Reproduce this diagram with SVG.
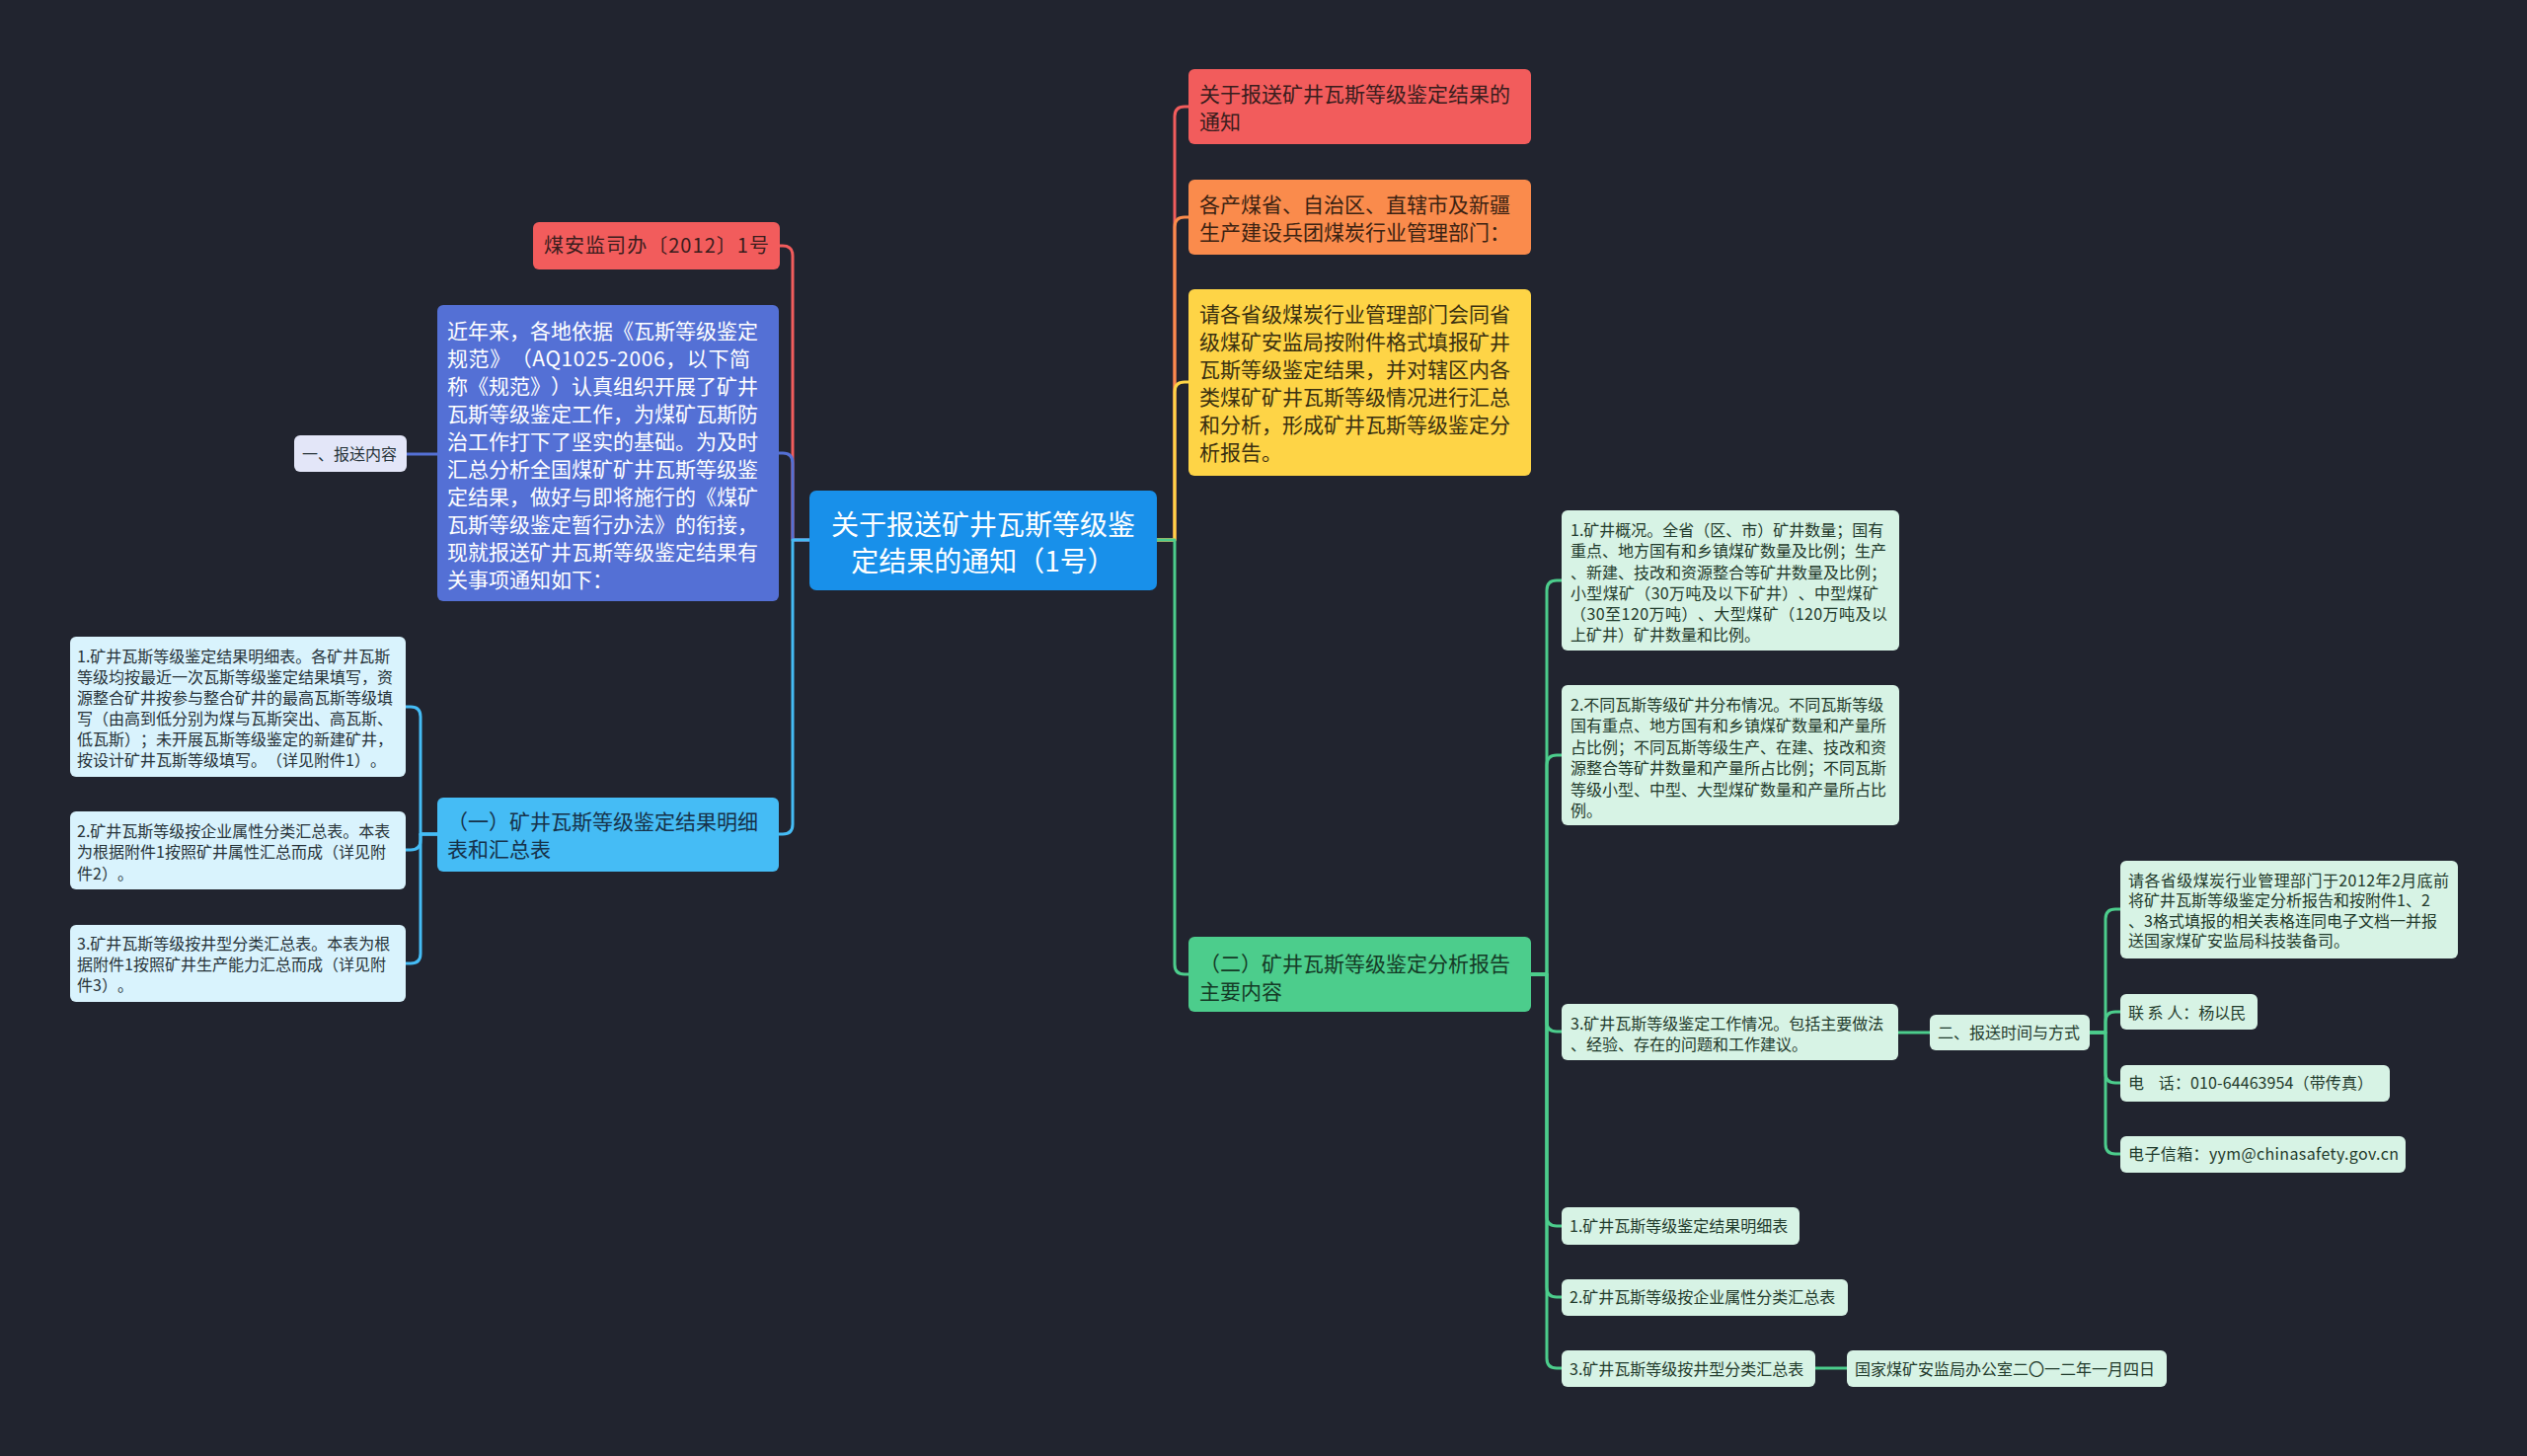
<svg xmlns="http://www.w3.org/2000/svg" width="2560" height="1475" viewBox="0 0 2560 1475">
<style>
text{font-family:"Noto Sans CJK SC","Noto Sans",sans-serif;white-space:pre;text-spacing-trim:space-all}
.c{fill:none;stroke-width:3;stroke-linejoin:round}
.f16{font-size:16px}
.f21{font-size:21px}
.dk{fill:#263238}
.gd{fill:#1f3a2b}
.mint{fill:#d7f3e5}
.sky{fill:#d9f3fd}
</style>
<rect width="2560" height="1475" fill="#21242f"/>
<g id="connectors">
<path class="c" stroke="#f25c5c" d="M820,547H803V259Q803,249 793,249H790"/>
<path class="c" stroke="#5470d5" d="M820,547H803V469Q803,459 793,459H789"/>
<path class="c" stroke="#45bcf5" d="M820,547H803V835Q803,845 793,845H789"/>
<path class="c" stroke="#5470d5" d="M443,460H412"/>
<path class="c" stroke="#45bcf5" d="M443,845H426V726Q426,716 416,716H411"/>
<path class="c" stroke="#45bcf5" d="M443,845H426V851Q426,861 416,861H411"/>
<path class="c" stroke="#45bcf5" d="M443,845H426V966Q426,976 416,976H411"/>
<path class="c" stroke="#f25c5c" d="M1172,547H1190V118Q1190,108 1200,108H1204"/>
<path class="c" stroke="#fa8b4c" d="M1172,547H1190V230Q1190,220 1200,220H1204"/>
<path class="c" stroke="#fed446" d="M1172,547H1190V397Q1190,387 1200,387H1204"/>
<path class="c" stroke="#4ccd8c" d="M1172,547H1190V977Q1190,987 1200,987H1204"/>
<path class="c" stroke="#4ccd8c" d="M1551,987H1567V598Q1567,588 1577,588H1582"/>
<path class="c" stroke="#4ccd8c" d="M1551,987H1567V775Q1567,765 1577,765H1582"/>
<path class="c" stroke="#4ccd8c" d="M1551,987H1567V1035Q1567,1045 1577,1045H1582"/>
<path class="c" stroke="#4ccd8c" d="M1551,987H1567V1232Q1567,1242 1577,1242H1582"/>
<path class="c" stroke="#4ccd8c" d="M1551,987H1567V1304Q1567,1314 1577,1314H1582"/>
<path class="c" stroke="#4ccd8c" d="M1551,987H1567V1376Q1567,1386 1577,1386H1582"/>
<path class="c" stroke="#4ccd8c" d="M1923,1046H1955"/>
<path class="c" stroke="#4ccd8c" d="M1839,1386H1871"/>
<path class="c" stroke="#4ccd8c" d="M2117,1046H2133V931Q2133,921 2143,921H2148"/>
<path class="c" stroke="#4ccd8c" d="M2117,1046H2133V1035Q2133,1025 2143,1025H2148"/>
<path class="c" stroke="#4ccd8c" d="M2117,1046H2133V1087Q2133,1097 2143,1097H2148"/>
<path class="c" stroke="#4ccd8c" d="M2117,1046H2133V1159Q2133,1169 2143,1169H2148"/>
</g>
<g id="root">
<rect x="820" y="497" width="352" height="101" rx="7" fill="#1890ea"/>
<text x="996" y="542" font-size="28" fill="#ffffff" text-anchor="middle">关于报送矿井瓦斯等级鉴</text>
<text x="996" y="579" font-size="28" fill="#ffffff" text-anchor="middle">定结果的通知（1号）</text>
</g>
<g id="n-wenhao">
<rect x="540" y="225" width="250" height="48" rx="6" fill="#f25c5c"/>
<text x="551" y="256" font-size="20" fill="#3a1d1d" textLength="228" lengthAdjust="spacing">煤安监司办〔2012〕1号</text>
</g>
<g id="n-para">
<rect x="443" y="309" width="346" height="300" rx="6" fill="#5470d5"/>
<g class="f21" fill="#ffffff">
<text x="453" y="343">近年来，各地依据《瓦斯等级鉴定</text>
<text x="453" y="371" textLength="307" lengthAdjust="spacing">规范》（AQ1025-2006，以下简</text>
<text x="453" y="399">称《规范》）认真组织开展了矿井</text>
<text x="453" y="427">瓦斯等级鉴定工作，为煤矿瓦斯防</text>
<text x="453" y="455">治工作打下了坚实的基础。为及时</text>
<text x="453" y="483">汇总分析全国煤矿矿井瓦斯等级鉴</text>
<text x="453" y="511">定结果，做好与即将施行的《煤矿</text>
<text x="453" y="539">瓦斯等级鉴定暂行办法》的衔接，</text>
<text x="453" y="567">现就报送矿井瓦斯等级鉴定结果有</text>
<text x="453" y="595">关事项通知如下：</text>
</g>
</g>
<g id="n-baosong">
<rect x="298" y="441" width="114" height="37" rx="6" fill="#e3e6f8"/>
<text x="306" y="466" class="f16" fill="#263238">一、报送内容</text>
</g>
<g id="n-yi">
<rect x="443" y="808" width="346" height="75" rx="6" fill="#45bcf5"/>
<text x="453" y="840" class="f21" fill="#16324a">（一）矿井瓦斯等级鉴定结果明细</text>
<text x="453" y="868" class="f21" fill="#16324a">表和汇总表</text>
</g>
<g id="n-yi-1">
<rect x="71" y="645" width="340" height="142" rx="6" class="sky"/>
<g class="f16 dk">
<text x="78" y="671">1.矿井瓦斯等级鉴定结果明细表。各矿井瓦斯</text>
<text x="78" y="692">等级均按最近一次瓦斯等级鉴定结果填写，资</text>
<text x="78" y="713">源整合矿井按参与整合矿井的最高瓦斯等级填</text>
<text x="78" y="734">写（由高到低分别为煤与瓦斯突出、高瓦斯、</text>
<text x="78" y="755">低瓦斯）；未开展瓦斯等级鉴定的新建矿井，</text>
<text x="78" y="776">按设计矿井瓦斯等级填写。（详见附件1）。</text>
</g>
</g>
<g id="n-yi-2">
<rect x="71" y="822" width="340" height="79" rx="6" class="sky"/>
<g class="f16 dk">
<text x="78" y="848">2.矿井瓦斯等级按企业属性分类汇总表。本表</text>
<text x="78" y="869">为根据附件1按照矿井属性汇总而成（详见附</text>
<text x="78" y="891">件2）。</text>
</g>
</g>
<g id="n-yi-3">
<rect x="71" y="937" width="340" height="78" rx="6" class="sky"/>
<g class="f16 dk">
<text x="78" y="962">3.矿井瓦斯等级按井型分类汇总表。本表为根</text>
<text x="78" y="983">据附件1按照矿井生产能力汇总而成（详见附</text>
<text x="78" y="1004">件3）。</text>
</g>
</g>
<g id="n-title">
<rect x="1204" y="70" width="347" height="76" rx="6" fill="#f25c5c"/>
<text x="1215" y="103" class="f21" fill="#3a1d1d">关于报送矿井瓦斯等级鉴定结果的</text>
<text x="1215" y="131" class="f21" fill="#3a1d1d">通知</text>
</g>
<g id="n-recipients">
<rect x="1204" y="182" width="347" height="76" rx="6" fill="#fa8b4c"/>
<text x="1215" y="215" class="f21" fill="#3a2212">各产煤省、自治区、直辖市及新疆</text>
<text x="1215" y="243" class="f21" fill="#3a2212">生产建设兵团煤炭行业管理部门：</text>
</g>
<g id="n-request">
<rect x="1204" y="293" width="347" height="189" rx="6" fill="#fed446"/>
<g class="f21" fill="#3a3010">
<text x="1215" y="326">请各省级煤炭行业管理部门会同省</text>
<text x="1215" y="354">级煤矿安监局按附件格式填报矿井</text>
<text x="1215" y="382">瓦斯等级鉴定结果，并对辖区内各</text>
<text x="1215" y="410">类煤矿矿井瓦斯等级情况进行汇总</text>
<text x="1215" y="438">和分析，形成矿井瓦斯等级鉴定分</text>
<text x="1215" y="466">析报告。</text>
</g>
</g>
<g id="n-er">
<rect x="1204" y="949" width="347" height="76" rx="6" fill="#4ccd8c"/>
<text x="1215" y="984" class="f21" fill="#143a26">（二）矿井瓦斯等级鉴定分析报告</text>
<text x="1215" y="1012" class="f21" fill="#143a26">主要内容</text>
</g>
<g id="n-er-1">
<rect x="1582" y="517" width="342" height="142" rx="6" class="mint"/>
<g class="f16 gd">
<text x="1591" y="543">1.矿井概况。全省（区、市）矿井数量；国有</text>
<text x="1591" y="564">重点、地方国有和乡镇煤矿数量及比例；生产</text>
<text x="1591" y="586">、新建、技改和资源整合等矿井数量及比例；</text>
<text x="1591" y="607" textLength="312" lengthAdjust="spacing">小型煤矿（30万吨及以下矿井）、中型煤矿</text>
<text x="1591" y="628" textLength="321" lengthAdjust="spacing">（30至120万吨）、大型煤矿（120万吨及以</text>
<text x="1591" y="649">上矿井）矿井数量和比例。</text>
</g>
</g>
<g id="n-er-2">
<rect x="1582" y="694" width="342" height="142" rx="6" class="mint"/>
<g class="f16 gd">
<text x="1591" y="720">2.不同瓦斯等级矿井分布情况。不同瓦斯等级</text>
<text x="1591" y="741">国有重点、地方国有和乡镇煤矿数量和产量所</text>
<text x="1591" y="763">占比例；不同瓦斯等级生产、在建、技改和资</text>
<text x="1591" y="784">源整合等矿井数量和产量所占比例；不同瓦斯</text>
<text x="1591" y="806">等级小型、中型、大型煤矿数量和产量所占比</text>
<text x="1591" y="827">例。</text>
</g>
</g>
<g id="n-er-3">
<rect x="1582" y="1017" width="341" height="57" rx="6" class="mint"/>
<text x="1591" y="1043" class="f16 gd">3.矿井瓦斯等级鉴定工作情况。包括主要做法</text>
<text x="1591" y="1064" class="f16 gd">、经验、存在的问题和工作建议。</text>
</g>
<g id="n-er-4">
<rect x="1582" y="1223" width="241" height="38" rx="6" class="mint"/>
<text x="1590" y="1248" class="f16 gd">1.矿井瓦斯等级鉴定结果明细表</text>
</g>
<g id="n-er-5">
<rect x="1582" y="1296" width="290" height="37" rx="6" class="mint"/>
<text x="1590" y="1320" class="f16 gd">2.矿井瓦斯等级按企业属性分类汇总表</text>
</g>
<g id="n-er-6">
<rect x="1582" y="1368" width="257" height="37" rx="6" class="mint"/>
<text x="1590" y="1393" class="f16 gd">3.矿井瓦斯等级按井型分类汇总表</text>
</g>
<g id="n-date">
<rect x="1871" y="1368" width="324" height="37" rx="6" class="mint"/>
<text x="1879" y="1393" class="f16 gd">国家煤矿安监局办公室二〇一二年一月四日</text>
</g>
<g id="n-time">
<rect x="1955" y="1028" width="162" height="36" rx="6" class="mint"/>
<text x="1963" y="1052" class="f16 gd">二、报送时间与方式</text>
</g>
<g id="n-time-1">
<rect x="2148" y="872" width="342" height="99" rx="6" class="mint"/>
<g class="f16 gd">
<text x="2156" y="898" textLength="325" lengthAdjust="spacing">请各省级煤炭行业管理部门于2012年2月底前</text>
<text x="2156" y="918">将矿井瓦斯等级鉴定分析报告和按附件1、2</text>
<text x="2156" y="939">、3格式填报的相关表格连同电子文档一并报</text>
<text x="2156" y="959">送国家煤矿安监局科技装备司。</text>
</g>
</g>
<g id="n-time-2">
<rect x="2148" y="1007" width="139" height="36" rx="6" class="mint"/>
<text x="2156" y="1032" class="f16 gd">联 系 人：杨以民</text>
</g>
<g id="n-time-3">
<rect x="2148" y="1079" width="273" height="37" rx="6" class="mint"/>
<text x="2156" y="1103" class="f16 gd" textLength="248" lengthAdjust="spacing">电    话：010-64463954（带传真）</text>
</g>
<g id="n-time-4">
<rect x="2148" y="1151" width="289" height="37" rx="6" class="mint"/>
<text x="2156" y="1175" class="f16 gd" textLength="274" lengthAdjust="spacing">电子信箱：yym@chinasafety.gov.cn</text>
</g>
</svg>
